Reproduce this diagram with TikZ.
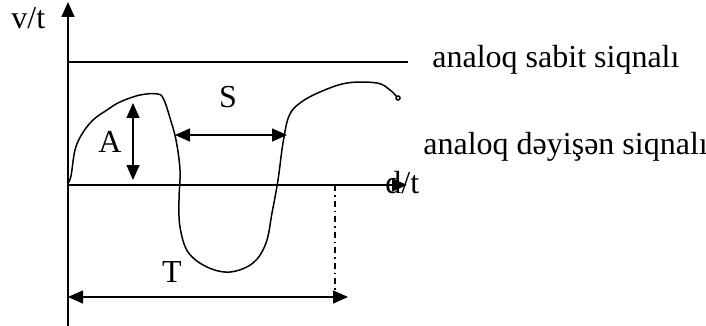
\documentclass[tikz,border=0pt]{standalone}
\usepackage{fontspec}
\setmainfont{Liberation Serif}
\usetikzlibrary{arrows.meta}

\begin{document}
\begin{tikzpicture}[x=0.5pt, y=-0.5pt,
    axis/.style={line width=0.75pt, -{Triangle[length=7.5pt, width=6.5pt]}},
    dimline/.style={line width=0.75pt, {Triangle[length=7.5pt, width=6.5pt]}-{Triangle[length=7.5pt, width=6.5pt]}},
    lbl/.style={inner sep=0pt, font=\fontsize{16}{19}\selectfont},
    wave/.style={line width=0.75pt, line join=round}
]
\useasboundingbox (0,0) rectangle (706,326);
% axes
\coordinate (o) at (68,185);
\coordinate (ybot) at (68,328);
\coordinate (ytop) at (68,2);
\coordinate (xend) at (407,185);
\draw[axis] (ybot) -- (ytop);
\draw[axis] (o) -- (xend);
\node[lbl, anchor=base west] (vt) at (11,29) {v/t};
\node[lbl, anchor=base west] (dt) at (385,193) {d/t};

% constant signal
\coordinate (c0) at (68,62);
\coordinate (c1) at (408,62);
\draw[line width=0.75pt] (c0) -- (c1);
\node[lbl, anchor=base west] (sabit) at (432,68) {analoq sabit siqnalı};

% varying signal
\draw[wave] plot[smooth, tension=0.6] coordinates {
    (68,183) (71,176) (75,150) (82,134) (93,120) (107,110) (120,102)
    (140,95) (158,94) (164,100) (170,118) (176,140) (180,170) (179,200)
    (180,227) (188,252) (207,267) (230,272) (253,263) (266,243) (272,213)
    (278,180) (283,143) (289,116) (300,103) (320,92) (347,83) (377,83)
    (390,90) (397,97)};
\draw[line width=0.75pt] (398,98) circle (2);
\node[lbl, anchor=base west] (deyisen) at (423,155) {analoq dəyişən siqnalı};

% amplitude, half period, period
\coordinate (a0) at (133,103);
\coordinate (a1) at (133,180);
\draw[dimline] (a0) -- (a1);
\node[lbl, anchor=base] (A) at (110,152) {A};
\coordinate (s0) at (175,135);
\coordinate (s1) at (287,135);
\draw[dimline] (s0) -- (s1);
\node[lbl, anchor=base] (S) at (228,108) {S};
\coordinate (p0) at (335,185);
\coordinate (p1) at (335,290);
\draw[line width=0.75pt, dash dot] (p0) -- (p1);
\coordinate (t0) at (68,297);
\coordinate (t1) at (348,297);
\draw[dimline] (t0) -- (t1);
\node[lbl, anchor=base] (T) at (172,282) {T};
\end{tikzpicture}
\end{document}
